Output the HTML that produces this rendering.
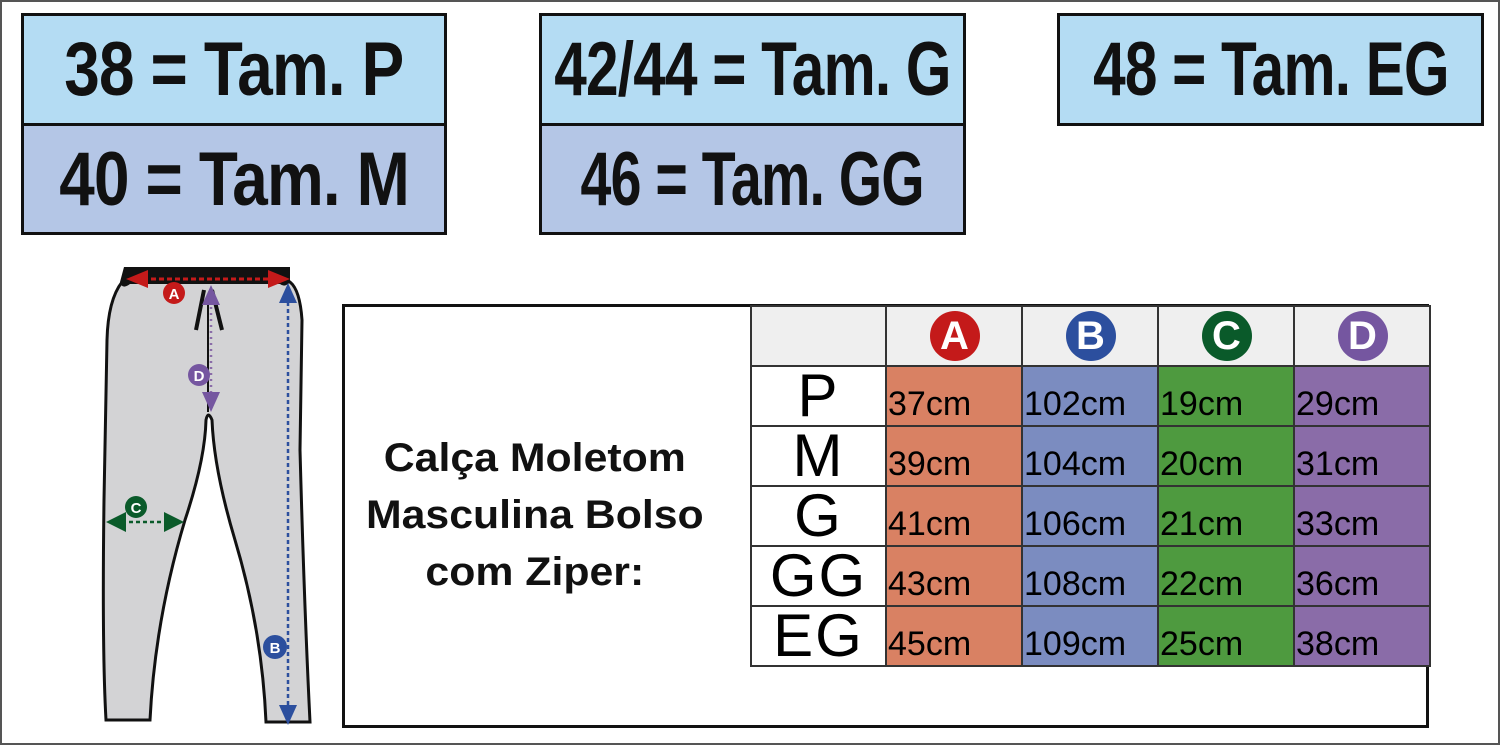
<!DOCTYPE html>
<html><head><meta charset="utf-8"><style>
body{margin:0;width:1500px;height:745px;position:relative;background:#fff;font-family:"Liberation Sans",sans-serif;overflow:hidden}
.frame{position:absolute;left:0;top:0;width:1496px;height:741px;border:2px solid #555}
.b{position:absolute;border:3px solid #111;box-sizing:border-box;display:flex;align-items:center;justify-content:center;font-weight:bold;font-size:76px;color:#111;white-space:nowrap}
.b span{display:inline-block;transform:scaleX(0.84);letter-spacing:-1px}
.l1{background:#b4dcf3}.l2{background:#b4c6e6}
table{position:absolute;left:750px;top:305px;border-collapse:collapse}
td{width:133px;height:57px;border:2px solid #333;padding:0;font-size:34px;vertical-align:bottom;padding-bottom:1px;padding-left:1px;white-space:nowrap}
td.s{background:#fff;text-align:center;font-size:60px;vertical-align:middle;line-height:50px;padding:0;letter-spacing:2px}
tr.h td{background:#efefef;text-align:center;vertical-align:middle}
.c{display:inline-block;width:50px;height:50px;border-radius:50%;color:#fff;font-weight:bold;font-size:40px;line-height:50px;text-align:center}
.A{background:#d98163}.B{background:#7b8cc0}.C{background:#4e9a3f}.D{background:#8a6ca8}
</style></head><body>
<div class="frame"></div>
<div class="b l1" style="left:21px;top:13px;width:426px;height:113px"><span>38 = Tam. P</span></div>
<div class="b l2" style="left:21px;top:123px;width:426px;height:112px"><span>40 = Tam. M</span></div>
<div class="b l1" style="left:539px;top:13px;width:427px;height:113px"><span style="transform:scaleX(0.77)">42/44 = Tam. G</span></div>
<div class="b l2" style="left:539px;top:123px;width:427px;height:112px"><span style="transform:scaleX(0.73)">46 = Tam. GG</span></div>
<div class="b l1" style="left:1057px;top:13px;width:427px;height:113px"><span style="transform:scaleX(0.77)">48 = Tam. EG</span></div>
<div style="position:absolute;left:342px;top:304px;width:1087px;height:424px;border:3px solid #111;box-sizing:border-box"></div>
<div style="position:absolute;left:345px;top:430px;width:380px;text-align:center;font-weight:bold;font-size:40px;line-height:57px;color:#111;white-space:nowrap"><span style="display:inline-block;transform:scaleX(1.07)">Calça Moletom<br>Masculina Bolso<br>com Ziper:</span></div>
<table>
<tr class="h"><td class="s" style="background:#efefef"></td><td><span class="c" style="background:#c41a1a">A</span></td><td><span class="c" style="background:#2c4f9e">B</span></td><td><span class="c" style="background:#0a5a2a">C</span></td><td><span class="c" style="background:#7556a0">D</span></td></tr>
<tr><td class="s">P</td><td class="A">37cm</td><td class="B">102cm</td><td class="C">19cm</td><td class="D">29cm</td></tr>
<tr><td class="s">M</td><td class="A">39cm</td><td class="B">104cm</td><td class="C">20cm</td><td class="D">31cm</td></tr>
<tr><td class="s">G</td><td class="A">41cm</td><td class="B">106cm</td><td class="C">21cm</td><td class="D">33cm</td></tr>
<tr><td class="s">GG</td><td class="A">43cm</td><td class="B">108cm</td><td class="C">22cm</td><td class="D">36cm</td></tr>
<tr><td class="s">EG</td><td class="A">45cm</td><td class="B">109cm</td><td class="C">25cm</td><td class="D">38cm</td></tr>
</table>
<svg style="position:absolute;left:0;top:0" width="1500" height="745">
<path d="M122,282 Q108,300 107,340 L104,500 Q102,650 106,720 L150,720 Q155,620 185,520 Q205,460 206,420 Q208,410 212,420 Q214,470 235,540 Q262,630 266,722 L310,722 Q304,600 300,450 L302,320 Q300,290 290,282 Z" fill="#d3d3d5" stroke="#111" stroke-width="3"/>
<path d="M124,267 L290,267 L290,282 Q285,288 280,284 L130,284 Q122,290 120,282 Z" fill="#111"/>
<path d="M204,290 L196,330 M212,290 L222,330" stroke="#111" stroke-width="4"/>
<line x1="208" y1="300" x2="208" y2="412" stroke="#111" stroke-width="2"/>
<line x1="135" y1="279" x2="280" y2="279" stroke="#c41a1a" stroke-width="3" stroke-dasharray="5,3"/>
<polygon points="126,279 148,270 148,288" fill="#c41a1a"/><polygon points="290,279 268,270 268,288" fill="#c41a1a"/>
<line x1="211" y1="295" x2="211" y2="400" stroke="#8a6ca8" stroke-width="2.5" stroke-dasharray="2,4"/>
<polygon points="211,285 202,305 220,305" fill="#7556a0"/><polygon points="211,412 202,392 220,392" fill="#7556a0"/>
<line x1="288" y1="295" x2="288" y2="715" stroke="#2c4f9e" stroke-width="2.5" stroke-dasharray="4,3"/>
<polygon points="288,283 279,303 297,303" fill="#2c4f9e"/><polygon points="288,725 279,705 297,705" fill="#2c4f9e"/>
<line x1="115" y1="522" x2="170" y2="522" stroke="#0a5a2a" stroke-width="2.5" stroke-dasharray="4,3"/>
<polygon points="106,522 126,512 126,532" fill="#0a5a2a"/><polygon points="184,522 164,512 164,532" fill="#0a5a2a"/>
<g font-family="Liberation Sans" font-weight="bold" font-size="15" fill="#fff" text-anchor="middle">
<circle cx="174" cy="293" r="11" fill="#c41a1a"/><text x="174" y="299">A</text>
<circle cx="199" cy="375" r="11" fill="#7556a0"/><text x="199" y="381">D</text>
<circle cx="136" cy="507" r="11" fill="#0a5a2a"/><text x="136" y="513">C</text>
<circle cx="275" cy="647" r="12" fill="#2c4f9e"/><text x="275" y="653">B</text>
</g>
</svg>
</body></html>
